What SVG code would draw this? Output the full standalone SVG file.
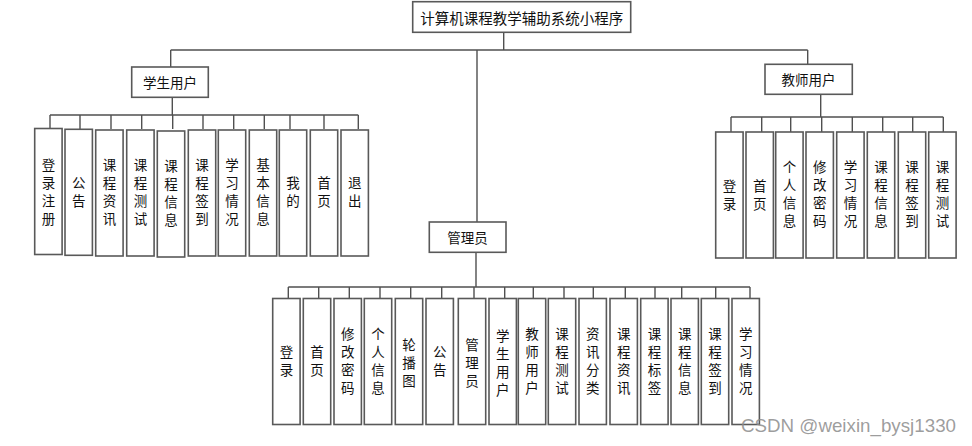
<svg xmlns="http://www.w3.org/2000/svg" width="972" height="446" viewBox="0 0 972 446">
<style>
.box{fill:#fff;stroke:#595959;stroke-width:1.6}
.ln{stroke:#505050;stroke-width:1.4;fill:none}
.t{font-family:"Noto Sans CJK SC","Liberation Sans",sans-serif;font-size:13.5px;fill:#111;text-anchor:middle;dominant-baseline:central}
.v{writing-mode:vertical-rl;letter-spacing:4.5px}
.tt{font-size:14.5px}
.wm{font-family:"Liberation Sans","DejaVu Sans",sans-serif;font-size:18.5px;fill:#8c8c8c;fill-opacity:0.85}
</style>
<rect width="972" height="446" fill="#fff"/>
<g id="connectors">
<path class="ln" d="M503.7 32.3V50 M170.7 50H807.7 M170.7 50V67 M807.7 50V64.3 M477 50V222"/>
<path class="ln" d="M172.3 97.3V115 M50 115H358.3 M50 115V129 M80 115V129 M111 115V129 M141.7 115V129 M172.7 115V129 M203 115V129 M233.7 115V129 M264.3 115V129 M290 115V129 M324 115V129 M358.3 115V129"/>
<path class="ln" d="M820.7 94.3V117 M731 117H943.3 M731 117V132 M761.7 117V132 M790.7 117V132 M821.7 117V132 M852.3 117V132 M882.7 117V132 M912.7 117V132 M943.3 117V132"/>
<path class="ln" d="M476 252.3V287 M288.3 287H750 M288.3 287V298.5 M318.7 287V298.5 M349.3 287V298.5 M380 287V298.5 M410.7 287V298.5 M441.7 287V298.5 M474 287V298.5 M504.7 287V298.5 M533.3 287V298.5 M564 287V298.5 M593.3 287V298.5 M625.3 287V298.5 M655 287V298.5 M681.7 287V298.5 M715.7 287V298.5 M750 287V298.5"/>
</g>
<g id="root"><rect class="box" x="412.7" y="1.7" width="218" height="30.6"/><text class="t tt" x="521.7" y="17">计算机课程教学辅助系统小程序</text></g>
<g id="student"><rect class="box" x="131.7" y="67" width="76.6" height="30.3"/><text class="t" x="170" y="82">学生用户</text></g>
<g id="teacher"><rect class="box" x="765" y="64.3" width="87.3" height="30"/><text class="t" x="808.6" y="79.3">教师用户</text></g>
<g id="admin"><rect class="box" x="429.3" y="222" width="76.7" height="30.3"/><text class="t" x="467.6" y="237.2">管理员</text></g>

<g id="s1"><rect class="box" x="34.7" y="128.5" width="27.4" height="126"/><text class="t v" x="48.4" y="194.2">登录注册</text></g>
<g id="s2"><rect class="box" x="65" y="129.3" width="27.4" height="126"/><text class="t v" x="78.7" y="194.2">公告</text></g>
<g id="s3"><rect class="box" x="95.7" y="130" width="27.4" height="126"/><text class="t v" x="109.4" y="194.2">课程资讯</text></g>
<g id="s4"><rect class="box" x="126.7" y="130" width="27.4" height="126"/><text class="t v" x="140.4" y="194.2">课程测试</text></g>
<g id="s5"><rect class="box" x="157.3" y="131" width="27.4" height="126"/><text class="t v" x="171" y="195.2">课程信息</text></g>
<g id="s6"><rect class="box" x="188.3" y="130" width="27.4" height="126"/><text class="t v" x="202" y="194.2">课程签到</text></g>
<g id="s7"><rect class="box" x="218.3" y="130" width="27.4" height="126"/><text class="t v" x="232" y="194.2">学习情况</text></g>
<g id="s8"><rect class="box" x="249.3" y="130" width="27.4" height="126"/><text class="t v" x="263" y="194.2">基本信息</text></g>
<g id="s9"><rect class="box" x="279.3" y="130" width="27.4" height="126"/><text class="t v" x="293" y="194.2">我的</text></g>
<g id="s10"><rect class="box" x="310.3" y="130" width="27.4" height="126"/><text class="t v" x="324" y="194.2">首页</text></g>
<g id="s11"><rect class="box" x="341" y="130" width="27.4" height="126"/><text class="t v" x="354.7" y="194.2">退出</text></g>

<g id="t1"><rect class="box" x="715.7" y="132" width="27.4" height="126"/><text class="t v" x="729.4" y="197.2">登录</text></g>
<g id="t2"><rect class="box" x="746" y="132" width="27.4" height="126"/><text class="t v" x="759.7" y="197.2">首页</text></g>
<g id="t3"><rect class="box" x="775.7" y="132" width="27.4" height="126"/><text class="t v" x="789.4" y="196.2">个人信息</text></g>
<g id="t4"><rect class="box" x="806" y="132" width="27.4" height="126"/><text class="t v" x="819.7" y="196.2">修改密码</text></g>
<g id="t5"><rect class="box" x="836.7" y="132" width="27.4" height="126"/><text class="t v" x="850.4" y="196.2">学习情况</text></g>
<g id="t6"><rect class="box" x="867.3" y="132" width="27.4" height="126"/><text class="t v" x="881" y="196.2">课程信息</text></g>
<g id="t7"><rect class="box" x="898.3" y="132" width="27.4" height="126"/><text class="t v" x="912" y="196.2">课程签到</text></g>
<g id="t8"><rect class="box" x="928.7" y="132" width="27.4" height="126"/><text class="t v" x="942.4" y="196.2">课程测试</text></g>

<g id="a1"><rect class="box" x="272.7" y="298.5" width="27.4" height="126"/><text class="t v" x="286.4" y="363.2">登录</text></g>
<g id="a2"><rect class="box" x="303.3" y="298.5" width="27.4" height="126"/><text class="t v" x="317" y="363.2">首页</text></g>
<g id="a3"><rect class="box" x="334" y="298.5" width="27.4" height="126"/><text class="t v" x="347.7" y="363.2">修改密码</text></g>
<g id="a4"><rect class="box" x="364.3" y="298.5" width="27.4" height="126"/><text class="t v" x="378" y="363.2">个人信息</text></g>
<g id="a5"><rect class="box" x="395.3" y="298.5" width="27.4" height="126"/><text class="t v" x="409" y="365.2">轮播图</text></g>
<g id="a6"><rect class="box" x="426" y="298.5" width="27.4" height="126"/><text class="t v" x="439.7" y="363.2">公告</text></g>
<g id="a7"><rect class="box" x="458.3" y="298.5" width="27.4" height="126"/><text class="t v" x="472" y="365.2">管理员</text></g>
<g id="a8"><rect class="box" x="489" y="298.5" width="27.4" height="126"/><text class="t v" x="502.7" y="365.2">学生用户</text></g>
<g id="a9"><rect class="box" x="518.3" y="298.5" width="27.4" height="126"/><text class="t v" x="532" y="363.2">教师用户</text></g>
<g id="a10"><rect class="box" x="548.3" y="298.5" width="27.4" height="126"/><text class="t v" x="562" y="363.2">课程测试</text></g>
<g id="a11"><rect class="box" x="579" y="298.5" width="27.4" height="126"/><text class="t v" x="592.7" y="363.2">资讯分类</text></g>
<g id="a12"><rect class="box" x="610" y="298.5" width="27.4" height="126"/><text class="t v" x="623.7" y="363.2">课程资讯</text></g>
<g id="a13"><rect class="box" x="640.7" y="298.5" width="27.4" height="126"/><text class="t v" x="654.4" y="363.2">课程标签</text></g>
<g id="a14"><rect class="box" x="671" y="298.5" width="27.4" height="126"/><text class="t v" x="684.7" y="363.2">课程信息</text></g>
<g id="a15"><rect class="box" x="701.3" y="298.5" width="27.4" height="126"/><text class="t v" x="715" y="363.2">课程签到</text></g>
<g id="a16"><rect class="box" x="732" y="298.5" width="27.4" height="126"/><text class="t v" x="745.7" y="363.2">学习情况</text></g>

<text class="wm" x="741" y="432" textLength="215" lengthAdjust="spacingAndGlyphs">CSDN @weixin_bysj1330</text>
</svg>
